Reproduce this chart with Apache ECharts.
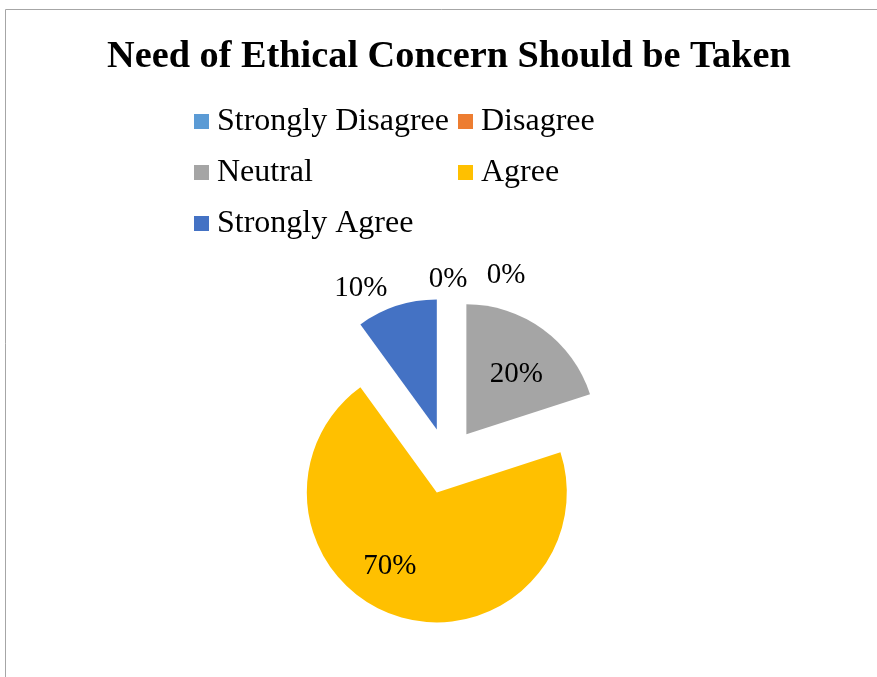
<!DOCTYPE html>
<html>
<head>
<meta charset="utf-8">
<script src="https://cdn.jsdelivr.net/npm/echarts@6/dist/echarts.min.js"></script>
<style>
  html, body { margin: 0; padding: 0; background: #ffffff; }
  #chart { width: 877px; height: 677px; }
</style>
</head>
<body>
<div id="chart"></div>
<script>
// Survey responses (share of respondents, %)
const categories = ['Strongly Disagree', 'Disagree', 'Neutral', 'Agree', 'Strongly Agree'];
const shares = [0, 0, 20, 70, 10];

const palette = ['#5B9BD5', '#ED7D31', '#A5A5A5', '#FFC000', '#4472C4'];
const serif = '"Liberation Serif", "Times New Roman", serif';

// nudges for the data labels, relative to their default inside position
const labelNudge = [[1, -81], [59, -85], [10, -5], [-26, 9], [-55, -77]];

const chart = echarts.init(document.getElementById('chart'), null, { renderer: 'canvas' });

chart.setOption({
  animation: false,
  backgroundColor: '#ffffff',
  title: {
    text: 'Need of Ethical Concern Should be Taken',
    left: 102,
    top: 33,
    padding: 5,
    textStyle: { fontFamily: serif, fontWeight: 'bold', fontSize: 38.3, color: '#000000' }
  },
  legend: {
    data: categories,
    left: 194,
    top: 99.5,
    width: 560,
    orient: 'horizontal',
    padding: 0,
    itemGap: 7,
    itemWidth: 15,
    itemHeight: 15,
    icon: 'rect',
    selectedMode: false,
    textStyle: {
      fontFamily: serif, fontSize: 32, color: '#000000',
      width: 234, lineHeight: 44, padding: [0, 0, 0, 3]
    }
  },
  graphic: [{
    type: 'rect',
    shape: { x: 5.5, y: 9.5, width: 900, height: 700 },
    style: { fill: 'none', stroke: '#a6a6a6', lineWidth: 1 },
    silent: true
  }],
  series: [{
    type: 'pie',
    center: [447, 461],
    radius: 130,
    startAngle: 90,
    clockwise: true,
    selectedMode: 'multiple',
    selectedOffset: 33,
    avoidLabelOverlap: false,
    emphasis: { disabled: true },
    label: {
      show: true,
      position: 'inside',
      fontFamily: serif,
      fontSize: 29,
      color: '#000000',
      formatter: p => p.value + '%'
    },
    labelLine: { show: false },
    labelLayout: p => ({ dx: labelNudge[p.dataIndex][0], dy: labelNudge[p.dataIndex][1] }),
    data: categories.map((name, i) => ({
      name: name,
      value: shares[i],
      selected: true,
      itemStyle: { color: palette[i] }
    }))
  }]
});
</script>
</body>
</html>
